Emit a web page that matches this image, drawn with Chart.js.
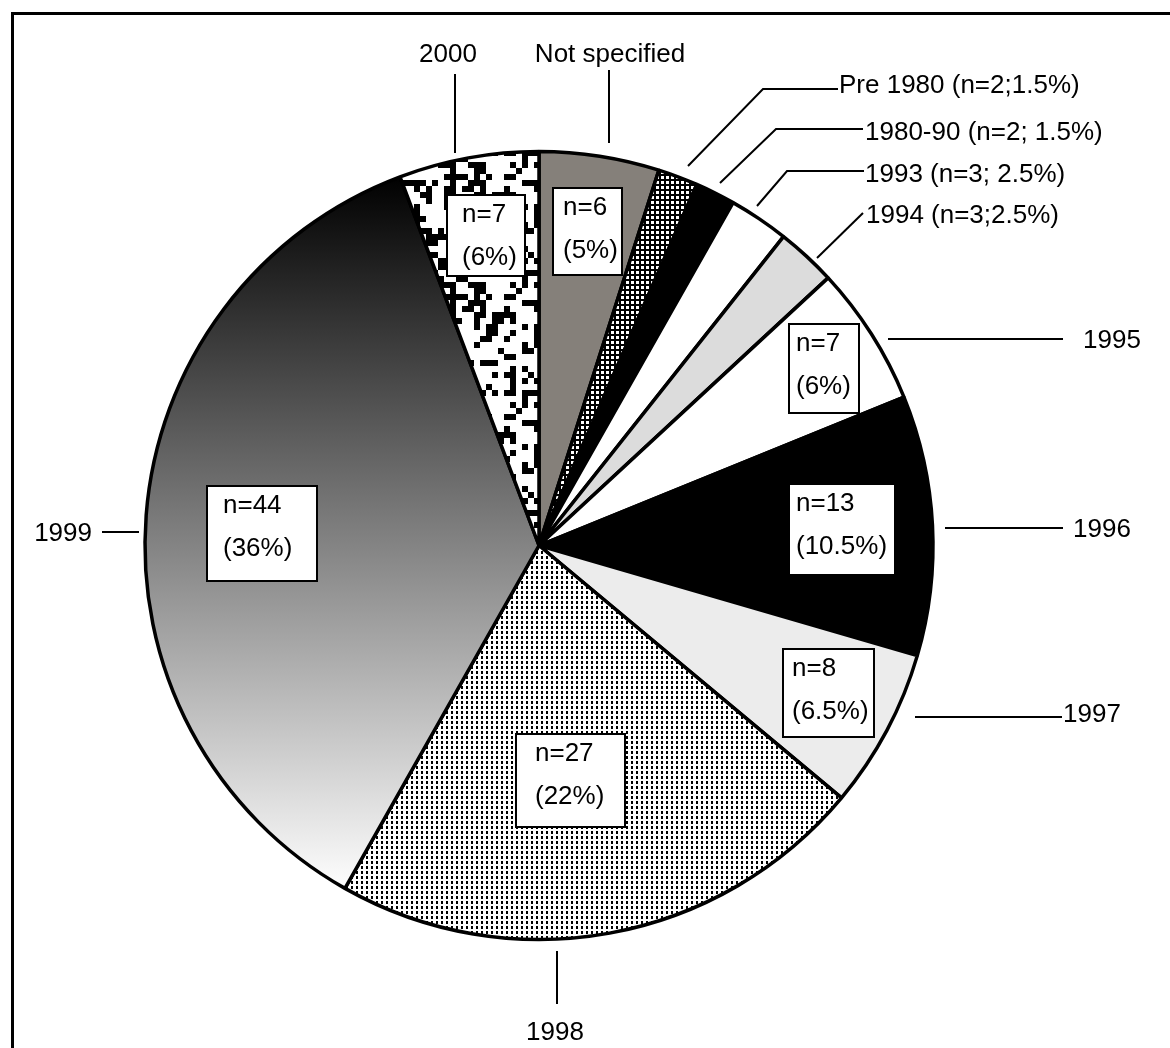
<!DOCTYPE html>
<html>
<head>
<meta charset="utf-8">
<title>Year distribution</title>
<script src="https://cdn.jsdelivr.net/npm/chart.js@4"></script>
<style>
  html, body { margin: 0; padding: 0; background: #fff; overflow: hidden; width: 1170px; height: 1048px; }
  #frame { position: absolute; left: 11px; top: 12px; width: 1200px; height: 1100px;
           border-top: 3px solid #000; border-left: 3px solid #000; }
  #c { position: absolute; left: 0; top: 0; }
</style>
</head>
<body>
<div id="frame"></div>
<canvas id="c" width="1170" height="1048"></canvas>
<script>
// slices, clockwise from 12 o'clock
const categories = ["Not specified", "Pre 1980", "1980-90", "1993", "1994", "1995", "1996", "1997", "1998", "1999", "2000"];
const counts = [6, 2, 2, 3, 3, 7, 13, 8, 27, 44, 7];
const percentLabels = ["5%", "1.5%", "1.5%", "2.5%", "2.5%", "6%", "10.5%", "6.5%", "22%", "36%", "6%"];
const outsideLabels = ["Not specified", "Pre 1980 (n=2;1.5%)", "1980-90 (n=2; 1.5%)", "1993 (n=3; 2.5%)",
  "1994 (n=3;2.5%)", "1995", "1996", "1997", "1998", "1999", "2000"];

const FONT = '26px "Liberation Sans", Arial, sans-serif';
const REF_R = 394; // layout offsets below are in px at this radius, from pie centre

// boxed "n=.. (..%)" labels: top-left offset, size, text inset
const boxLayout = {
  0: { x: 14, y: -357.5, w: 69, h: 87, pad: 10 },
  5: { x: 250, y: -221.5, w: 70, h: 89, pad: 7 },
  6: { x: 250, y: -61.5, w: 106, h: 91, pad: 7 },
  7: { x: 244, y: 103.5, w: 91, h: 88, pad: 9 },
  8: { x: -23, y: 188.5, w: 109, h: 93, pad: 19 },
  9: { x: -332, y: -59.5, w: 110, h: 95, pad: 16 },
  10: { x: -92, y: -350.5, w: 78, h: 81, pad: 15 }
};

// leader lines and outside text anchors
const leaderLayout = [
  { pts: [[70, -402.5], [70, -475.5]], text: [71, -483.5], align: "center" },
  { pts: [[149, -379.5], [224, -456.5], [299, -456.5]], text: [300, -452.5], align: "left" },
  { pts: [[181, -362.5], [237, -416.5], [324, -416.5]], text: [326, -405.5], align: "left" },
  { pts: [[218, -339.5], [248, -374.5], [325, -374.5]], text: [326, -363.5], align: "left" },
  { pts: [[278, -287.5], [324, -332.5]], text: [327, -322.5], align: "left" },
  { pts: [[349, -206.5], [524, -206.5]], text: [544, -197.5], align: "left" },
  { pts: [[406, -17.5], [524, -17.5]], text: [534, -8.5], align: "left" },
  { pts: [[376, 171.5], [523, 171.5]], text: [524, 176.5], align: "left" },
  { pts: [[18, 405.5], [18, 458.5]], text: [16, 494.5], align: "center" },
  { pts: [[-437, -13.5], [-400, -13.5]], text: [-447, -4.5], align: "right" },
  { pts: [[-84, -392.5], [-84, -471.5]], text: [-91, -483.5], align: "center" }
];

const mainCtx = document.getElementById("c").getContext("2d");

function makeTile(w, h, draw) {
  const c = document.createElement("canvas");
  c.width = w; c.height = h;
  draw(c.getContext("2d"));
  return mainCtx.createPattern(c, "repeat");
}

// white squares on black
const checkPattern = makeTile(5, 5, g => {
  g.fillStyle = "#000"; g.fillRect(0, 0, 5, 5);
  g.fillStyle = "#fff"; g.fillRect(1, 1, 3, 3);
});

// small black dots on white
const dotPattern = makeTile(5, 5, g => {
  g.fillStyle = "#fff"; g.fillRect(0, 0, 5, 5);
  g.fillStyle = "#000"; g.fillRect(1, 1, 2, 3);
});

// scattered black squares on white (fixed hash texture)
function cellHash(i, j) {
  let h = Math.imul(i, 374761393) + Math.imul(j, 668265263);
  h = Math.imul(h ^ (h >>> 13), 1274126177);
  return ((h ^ (h >>> 16)) >>> 0) % 100;
}
const confettiPattern = makeTile(120, 120, g => {
  g.fillStyle = "#fff"; g.fillRect(0, 0, 120, 120);
  g.fillStyle = "#000";
  for (let i = 0; i < 20; i++) {
    for (let j = 0; j < 20; j++) {
      const h = cellHash(i, j);
      if (h < 30) g.fillRect(i * 6, j * 6, h < 7 ? 12 : 6, 6);
    }
  }
});

function gradientFill(chart) {
  const a = chart.chartArea;
  if (!a) return "#888";
  const cy = (a.top + a.bottom) / 2;
  const r = Math.min(a.right - a.left, a.bottom - a.top) / 2;
  const g = chart.ctx.createLinearGradient(0, cy - 0.94 * r, 0, cy + 0.88 * r);
  g.addColorStop(0, "#000");
  g.addColorStop(1, "#fff");
  return g;
}

const fills = ["#85807a", checkPattern, "#000", "#fff", "#dcdcdc", "#fff", "#000", "#ececec",
  dotPattern, "gradient", confettiPattern];

const labelPlugin = {
  id: "sliceLabels",
  afterDatasetsDraw(chart) {
    const arcs = chart.getDatasetMeta(0).data;
    if (!arcs.length) return;
    const cx = arcs[0].x, cy = arcs[0].y, k = arcs[0].outerRadius / REF_R;
    const px = p => [cx + p[0] * k, cy + p[1] * k];
    const ctx = chart.ctx;
    ctx.save();
    ctx.font = FONT;
    ctx.fillStyle = "#000";
    ctx.strokeStyle = "#000";
    ctx.textBaseline = "alphabetic";

    leaderLayout.forEach((l, i) => {
      ctx.lineWidth = 2;
      ctx.beginPath();
      l.pts.forEach((p, j) => {
        const [x, y] = px(p);
        if (j === 0) ctx.moveTo(x, y); else ctx.lineTo(x, y);
      });
      ctx.stroke();
      const [tx, ty] = px(l.text);
      ctx.textAlign = l.align;
      ctx.fillText(outsideLabels[i], tx, ty);
    });

    Object.keys(boxLayout).forEach(key => {
      const i = +key;
      const b = boxLayout[i];
      const [x, y] = px([b.x, b.y]);
      ctx.fillStyle = "#fff";
      ctx.fillRect(x, y, b.w, b.h);
      ctx.lineWidth = 2;
      ctx.strokeRect(x, y, b.w, b.h);
      ctx.fillStyle = "#000";
      ctx.textAlign = "left";
      ctx.fillText("n=" + counts[i], x + b.pad, y + 27);
      ctx.fillText("(" + percentLabels[i] + ")", x + b.pad, y + 70);
    });
    ctx.restore();
  }
};

new Chart(document.getElementById("c"), {
  type: "pie",
  data: {
    labels: categories,
    datasets: [{
      data: counts,
      backgroundColor: ctx => {
        const f = fills[ctx.dataIndex];
        return f === "gradient" ? gradientFill(ctx.chart) : f;
      },
      borderColor: "#000",
      borderWidth: 3.5,
      hoverOffset: 0
    }]
  },
  options: {
    responsive: false,
    animation: false,
    events: [],
    radius: REF_R,
    layout: { padding: { left: 145, right: 237, top: 151.5, bottom: 108.5 } },
    plugins: { legend: { display: false }, tooltip: { enabled: false } }
  },
  plugins: [labelPlugin]
});
</script>
</body>
</html>
